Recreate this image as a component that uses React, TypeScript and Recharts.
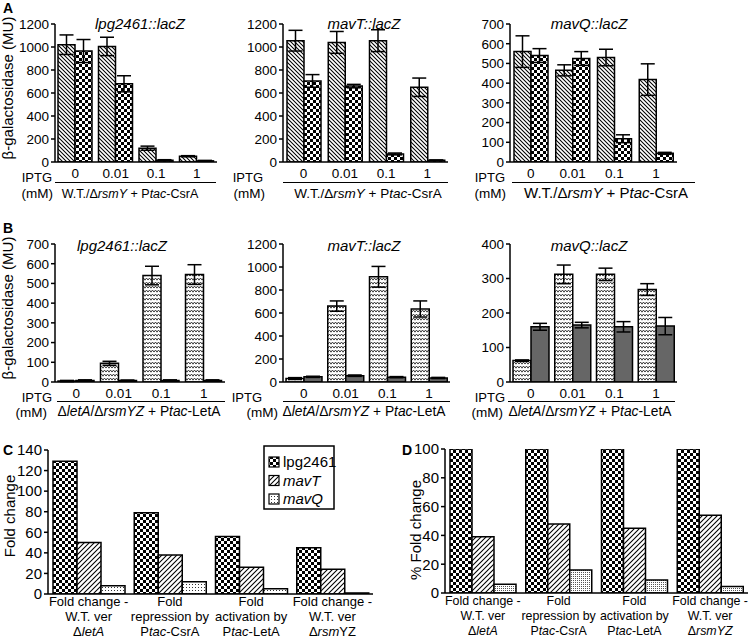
import React from 'react';
import { BarChart, Bar, XAxis, YAxis, ErrorBar } from 'recharts';

const FONT = '"Liberation Sans", Arial, Helvetica, sans-serif';

// ---------- data ----------
const iptgLevels = ['0', '0.01', '0.1', '1'];

// Panel A (Ptac-CsrA), hatched = W.T., checker = ΔrsmY
const a1Wt = [1020, 1005, 120, 50];
const a1WtErr = [85, 80, 18, 5];
const a1Rsm = [965, 680, 15, 10];
const a1RsmErr = [100, 70, 5, 4];

const a2Wt = [1055, 1040, 1055, 650];
const a2WtErr = [90, 95, 95, 80];
const a2Rsm = [705, 660, 70, 15];
const a2RsmErr = [55, 15, 8, 3];

const a3Wt = [560, 465, 530, 418];
const a3WtErr = [80, 28, 42, 80];
const a3Rsm = [540, 525, 118, 44];
const a3RsmErr = [35, 35, 20, 5];

// Panel B (Ptac-LetA), zigzag = ΔletA, gray = ΔrsmYZ
const b1Let = [5, 95, 540, 545];
const b1LetErr = [3, 10, 47, 50];
const b1Rsm = [8, 8, 8, 8];
const b1RsmErr = [3, 2, 3, 3];

const b2Let = [30, 660, 915, 635];
const b2LetErr = [8, 45, 90, 70];
const b2Rsm = [45, 55, 42, 35];
const b2RsmErr = [5, 6, 5, 5];

const b3Let = [62, 312, 312, 268];
const b3LetErr = [2, 27, 18, 17];
const b3Rsm = [160, 165, 160, 162];
const b3RsmErr = [10, 8, 15, 25];

// Panels C and D
const foldCatsC = ['Fold change -|W.T. ver|Δ_letA_', 'Fold|repression by|P_tac_-CsrA', 'Fold|activation by|P_tac_-LetA', 'Fold change -|W.T. ver|Δ_rsm_YZ'];
const foldCatsD = ['Fold change -|W.T. ver|Δ_letA_', 'Fold|repression by|P_tac_-CsrA', 'Fold|activation by|P_tac_-LetA', 'Fold change -|W.T. ver|Δ_rsmYZ_'];
const foldSeriesNames = ['lpg2461', '_mavT_', '_mavQ_'];
const cLpg = [129, 79, 56, 45];
const cMavT = [50, 38, 26, 24];
const cMavQ = [8, 12, 5, 1];
const dLpg = [100, 100, 100, 100];
const dMavT = [39, 48, 45, 54];
const dMavQ = [6, 16, 9, 4.5];

const ticks1200 = [0, 200, 400, 600, 800, 1000, 1200];
const ticks700 = [0, 100, 200, 300, 400, 500, 600, 700];
const ticks400 = [0, 100, 200, 300, 400];
const ticks140 = [0, 20, 40, 60, 80, 100, 120, 140];
const ticks100 = [0, 20, 40, 60, 80, 100];

const build = (cats: string[], series: number[][], errs?: number[][]) =>
  cats.map((c, i) => {
    const o: any = { cat: c };
    series.forEach((s, k) => { o['s' + k] = s[i]; });
    if (errs) errs.forEach((e, k) => { o['e' + k] = e[i]; });
    return o;
  });

const dataA1 = build(iptgLevels, [a1Wt, a1Rsm], [a1WtErr, a1RsmErr]);
const dataA2 = build(iptgLevels, [a2Wt, a2Rsm], [a2WtErr, a2RsmErr]);
const dataA3 = build(iptgLevels, [a3Wt, a3Rsm], [a3WtErr, a3RsmErr]);
const dataB1 = build(iptgLevels, [b1Let, b1Rsm], [b1LetErr, b1RsmErr]);
const dataB2 = build(iptgLevels, [b2Let, b2Rsm], [b2LetErr, b2RsmErr]);
const dataB3 = build(iptgLevels, [b3Let, b3Rsm], [b3LetErr, b3RsmErr]);
const dataC = build(foldCatsC, [cLpg, cMavT, cMavQ]);
const dataD = build(foldCatsD, [dLpg, dMavT, dMavQ]);

// ---------- helpers ----------
const Rich = ({ s }: { s: string }) => (
  <>
    {s.split('_').map((seg, i) => (
      <tspan key={i} fontStyle={i % 2 ? 'italic' : undefined}>{seg}</tspan>
    ))}
  </>
);

const T = ({ x, y, s, size = 13.5, anchor = 'start', italic = false, bold = false, rot = false }: any) => (
  <text
    x={rot ? 0 : x}
    y={rot ? 0 : y}
    transform={rot ? `translate(${x},${y}) rotate(-90)` : undefined}
    fontSize={size}
    fontFamily={FONT}
    textAnchor={anchor}
    fontStyle={italic ? 'italic' : 'normal'}
    fontWeight={bold ? 'bold' : 'normal'}
    fill="#000"
  >
    <Rich s={s} />
  </text>
);

const IptgTick = (props: any) => {
  const { x, y, payload } = props;
  return (
    <text x={x} y={y + 16} textAnchor="middle" fontSize={13.5} fontFamily={FONT} fill="#000">
      {payload.value}
    </text>
  );
};

const makeFoldTick = (size: number) => (props: any) => {
  const { x, y, payload } = props;
  const lines = String(payload.value).split('|');
  const offs = [12, 27, 42];
  return (
    <g>
      {lines.map((ln, i) => (
        <text key={i} x={x} y={y + offs[i]} textAnchor="middle" fontSize={size} fontFamily={FONT} fill="#000">
          <Rich s={ln} />
        </text>
      ))}
    </g>
  );
};
const FoldTickC = makeFoldTick(13);
const FoldTickD = makeFoldTick(12.4);

function Panel(p: any) {
  const mt = 11;
  const left = p.plotL - p.yW;
  const top = p.plotT - mt;
  const right = p.rightPad ?? 6;
  const width = p.plotR - left + right;
  const height = p.plotB - top + p.xH;
  return (
    <div style={{ position: 'absolute', left, top }}>
      <BarChart
        width={width}
        height={height}
        data={p.data}
        margin={{ top: mt, right, left: 0, bottom: 0 }}
        barGap={0}
        barSize={p.barSize}
      >
        <XAxis
          dataKey="cat"
          height={p.xH}
          axisLine={{ stroke: '#000', strokeWidth: 1.5 }}
          tickLine={false}
          tickSize={0}
          tickMargin={0}
          tick={p.xTick}
          interval={0}
        />
        <YAxis
          width={p.yW}
          domain={p.domain}
          ticks={p.ticks}
          interval={0}
          allowDataOverflow
          axisLine={{ stroke: '#000', strokeWidth: 1.5 }}
          tickLine={{ stroke: '#000', strokeWidth: 1.5 }}
          tickSize={4}
          tickMargin={2}
          tick={{ fontSize: p.yFont, fill: '#000', fontFamily: FONT }}
        />
        {p.fills.map((f: string, i: number) => (
          <Bar key={i} dataKey={'s' + i} fill={f} stroke="#000" strokeWidth={1.5} isAnimationActive={false}>
            {p.errors ? <ErrorBar dataKey={'e' + i} width={7} stroke="#000" strokeWidth={1.5} /> : null}
          </Bar>
        ))}
      </BarChart>
    </div>
  );
}

const HATCH_B = 'url(#pHatchB)';
const CHECK = 'url(#pChecker)';
const ZIG = 'url(#pZigzag)';
const GRAY = '#666666';
const HATCH_F = 'url(#pHatchF)';
const DOTS_C = 'url(#pDotsC)';
const DOTS_D = 'url(#pDotsD)';

export default function App() {
  const legendFills = [CHECK, HATCH_F, DOTS_C];
  return (
    <div style={{ position: 'absolute', left: 0, top: 0, width: 750, height: 638, overflow: 'hidden', background: '#fff' }}>
      <svg width="0" height="0" style={{ position: 'absolute' }}>
        <defs>
          <pattern id="pHatchB" patternUnits="userSpaceOnUse" width="4" height="4">
            <rect width="4" height="4" fill="#fff" />
            <path d="M-1,-1 L5,5 M-1,3 L1,5 M3,-1 L5,1" stroke="#000" strokeWidth="1.05" />
          </pattern>
          <pattern id="pChecker" patternUnits="userSpaceOnUse" width="6" height="6">
            <rect width="6" height="6" fill="#fff" />
            <rect width="3" height="3" fill="#000" />
            <rect x="3" y="3" width="3" height="3" fill="#000" />
          </pattern>
          <pattern id="pZigzag" patternUnits="userSpaceOnUse" width="6" height="4">
            <rect width="6" height="4" fill="#fff" />
            <path d="M0,3.2 L1.5,1 L3,3.2 L4.5,1 L6,3.2" fill="none" stroke="#222" strokeWidth="0.85" />
          </pattern>
          <pattern id="pHatchF" patternUnits="userSpaceOnUse" width="5" height="5">
            <rect width="5" height="5" fill="#fff" />
            <path d="M-1,6 L6,-1 M-1,1 L1,-1 M4,6 L6,4" stroke="#000" strokeWidth="1.05" />
          </pattern>
          <pattern id="pDotsC" patternUnits="userSpaceOnUse" width="3" height="3">
            <rect width="3" height="3" fill="#fff" />
            <rect x="1" y="1" width="1" height="1" fill="#333" />
          </pattern>
          <pattern id="pDotsD" patternUnits="userSpaceOnUse" width="2" height="2">
            <rect width="2" height="2" fill="#fff" />
            <rect x="0" y="0" width="1" height="1" fill="#555" />
          </pattern>
        </defs>
      </svg>

      {/* Row A */}
      <Panel plotL={55} plotR={217} plotT={24} plotB={162} yW={45} xH={36} data={dataA1} fills={[HATCH_B, CHECK]} barSize={17} domain={[0, 1200]} ticks={ticks1200} yFont={13.5} xTick={<IptgTick />} errors />
      <Panel plotL={283} plotR={448} plotT={24} plotB={162} yW={45} xH={36} data={dataA2} fills={[HATCH_B, CHECK]} barSize={17} domain={[0, 1200]} ticks={ticks1200} yFont={13.5} xTick={<IptgTick />} errors />
      <Panel plotL={510} plotR={677} plotT={24} plotB={162} yW={45} xH={36} data={dataA3} fills={[HATCH_B, CHECK]} barSize={17} domain={[0, 700]} ticks={ticks700} yFont={13.5} xTick={<IptgTick />} errors />

      {/* Row B */}
      <Panel plotL={55} plotR={225} plotT={244} plotB={382} yW={45} xH={36} data={dataB1} fills={[ZIG, GRAY]} barSize={18} domain={[0, 700]} ticks={ticks700} yFont={13.5} xTick={<IptgTick />} errors />
      <Panel plotL={283} plotR={450} plotT={244} plotB={382} yW={45} xH={36} data={dataB2} fills={[ZIG, GRAY]} barSize={18} domain={[0, 1200]} ticks={ticks1200} yFont={13.5} xTick={<IptgTick />} errors />
      <Panel plotL={510} plotR={677} plotT={244} plotB={382} yW={45} xH={36} data={dataB3} fills={[ZIG, GRAY]} barSize={18} domain={[0, 400]} ticks={ticks400} yFont={13.5} xTick={<IptgTick />} errors />

      {/* Row C / D */}
      <Panel plotL={48} plotR={373} plotT={450} plotB={594} yW={40} xH={48} data={dataC} fills={[CHECK, HATCH_F, DOTS_C]} barSize={24} domain={[0, 140]} ticks={ticks140} yFont={15} xTick={<FoldTickC />} />
      <Panel plotL={445} plotR={748} plotT={449} plotB={593} yW={40} xH={48} rightPad={2} data={dataD} fills={[CHECK, HATCH_F, DOTS_D]} barSize={22} domain={[0, 100]} ticks={ticks100} yFont={15} xTick={<FoldTickD />} />

      {/* Annotations */}
      <svg width={750} height={638} style={{ position: 'absolute', left: 0, top: 0, pointerEvents: 'none' }}>
        <T x={3} y={13} s="A" size={14} bold />
        <T x={3} y={233} s="B" size={14} bold />
        <T x={3} y={455} s="C" size={14} bold />
        <T x={402} y={455} s="D" size={14} bold />

        <T x={140} y={29} s="lpg2461::lacZ" size={15} anchor="middle" italic />
        <T x={364} y={29} s="mavT::lacZ" size={15} anchor="middle" italic />
        <T x={589} y={29} s="mavQ::lacZ" size={15} anchor="middle" italic />
        <T x={122} y={251} s="lpg2461::lacZ" size={15} anchor="middle" italic />
        <T x={364} y={251} s="mavT::lacZ" size={15} anchor="middle" italic />
        <T x={589} y={251} s="mavQ::lacZ" size={15} anchor="middle" italic />

        <T x={13} y={88} s="β-galactosidase (MU)" size={15} anchor="middle" rot />
        <T x={13} y={308} s="β-galactosidase (MU)" size={15} anchor="middle" rot />
        <T x={15} y={516} s="Fold change" size={15} anchor="middle" rot />
        <T x={421} y={530} s="% Fold change" size={15} anchor="middle" rot />

        {/* IPTG rows A */}
        <T x={52} y={182} s="IPTG" size={13} anchor="end" />
        <T x={53} y={198} s="(mM)" anchor="end" />
        <T x={263} y={182} s="IPTG" size={13} anchor="end" />
        <T x={265} y={198} s="(mM)" anchor="end" />
        <T x={505} y={182} s="IPTG" size={13} anchor="end" />
        <T x={506} y={198} s="(mM)" anchor="end" />
        <line x1={55} x2={216} y1={182.5} y2={182.5} stroke="#000" strokeWidth={1.2} />
        <line x1={283} x2={448} y1={182.5} y2={182.5} stroke="#000" strokeWidth={1.2} />
        <line x1={512} x2={695} y1={182.5} y2={182.5} stroke="#000" strokeWidth={1.2} />
        <T x={130} y={198} s="W.T./Δ_rsmY_ + P_tac_-CsrA" size={12.5} anchor="middle" />
        <T x={368} y={198} s="W.T./Δ_rsmY_ + P_tac_-CsrA" size={13.5} anchor="middle" />
        <T x={606} y={198} s="W.T./Δ_rsmY_ + P_tac_-CsrA" size={15} anchor="middle" />

        {/* IPTG rows B */}
        <T x={52} y={401.5} s="IPTG" size={13} anchor="end" />
        <T x={47} y={417} s="(mM)" anchor="end" />
        <T x={262} y={401.5} s="IPTG" size={13} anchor="end" />
        <T x={278} y={417} s="(mM)" anchor="end" />
        <T x={505} y={401.5} s="IPTG" size={13} anchor="end" />
        <T x={503} y={417} s="(mM)" anchor="end" />
        <line x1={57} x2={225} y1={401.5} y2={401.5} stroke="#000" strokeWidth={1.2} />
        <line x1={283} x2={450} y1={401.5} y2={401.5} stroke="#000" strokeWidth={1.2} />
        <line x1={508} x2={675} y1={401.5} y2={401.5} stroke="#000" strokeWidth={1.2} />
        <T x={139} y={416} s="Δ_letA_/Δ_rsmYZ_ + P_tac_-LetA" size={13.8} anchor="middle" />
        <T x={364} y={416} s="Δ_letA_/Δ_rsmYZ_ + P_tac_-LetA" size={13.8} anchor="middle" />
        <T x={590} y={416} s="Δ_letA_/Δ_rsmYZ_ + P_tac_-LetA" size={13.8} anchor="middle" />

        {/* Legend C */}
        <rect x={264} y={446} width={70} height={63} fill="#fff" stroke="#000" strokeWidth={1.5} />
        {foldSeriesNames.map((n, i) => (
          <g key={i}>
            <rect x={269} y={457 + i * 18.5} width={10} height={10} fill={legendFills[i]} stroke="#000" strokeWidth={1.2} />
            <T x={283} y={467 + i * 18.5} s={n} size={15} />
          </g>
        ))}
      </svg>
    </div>
  );
}
